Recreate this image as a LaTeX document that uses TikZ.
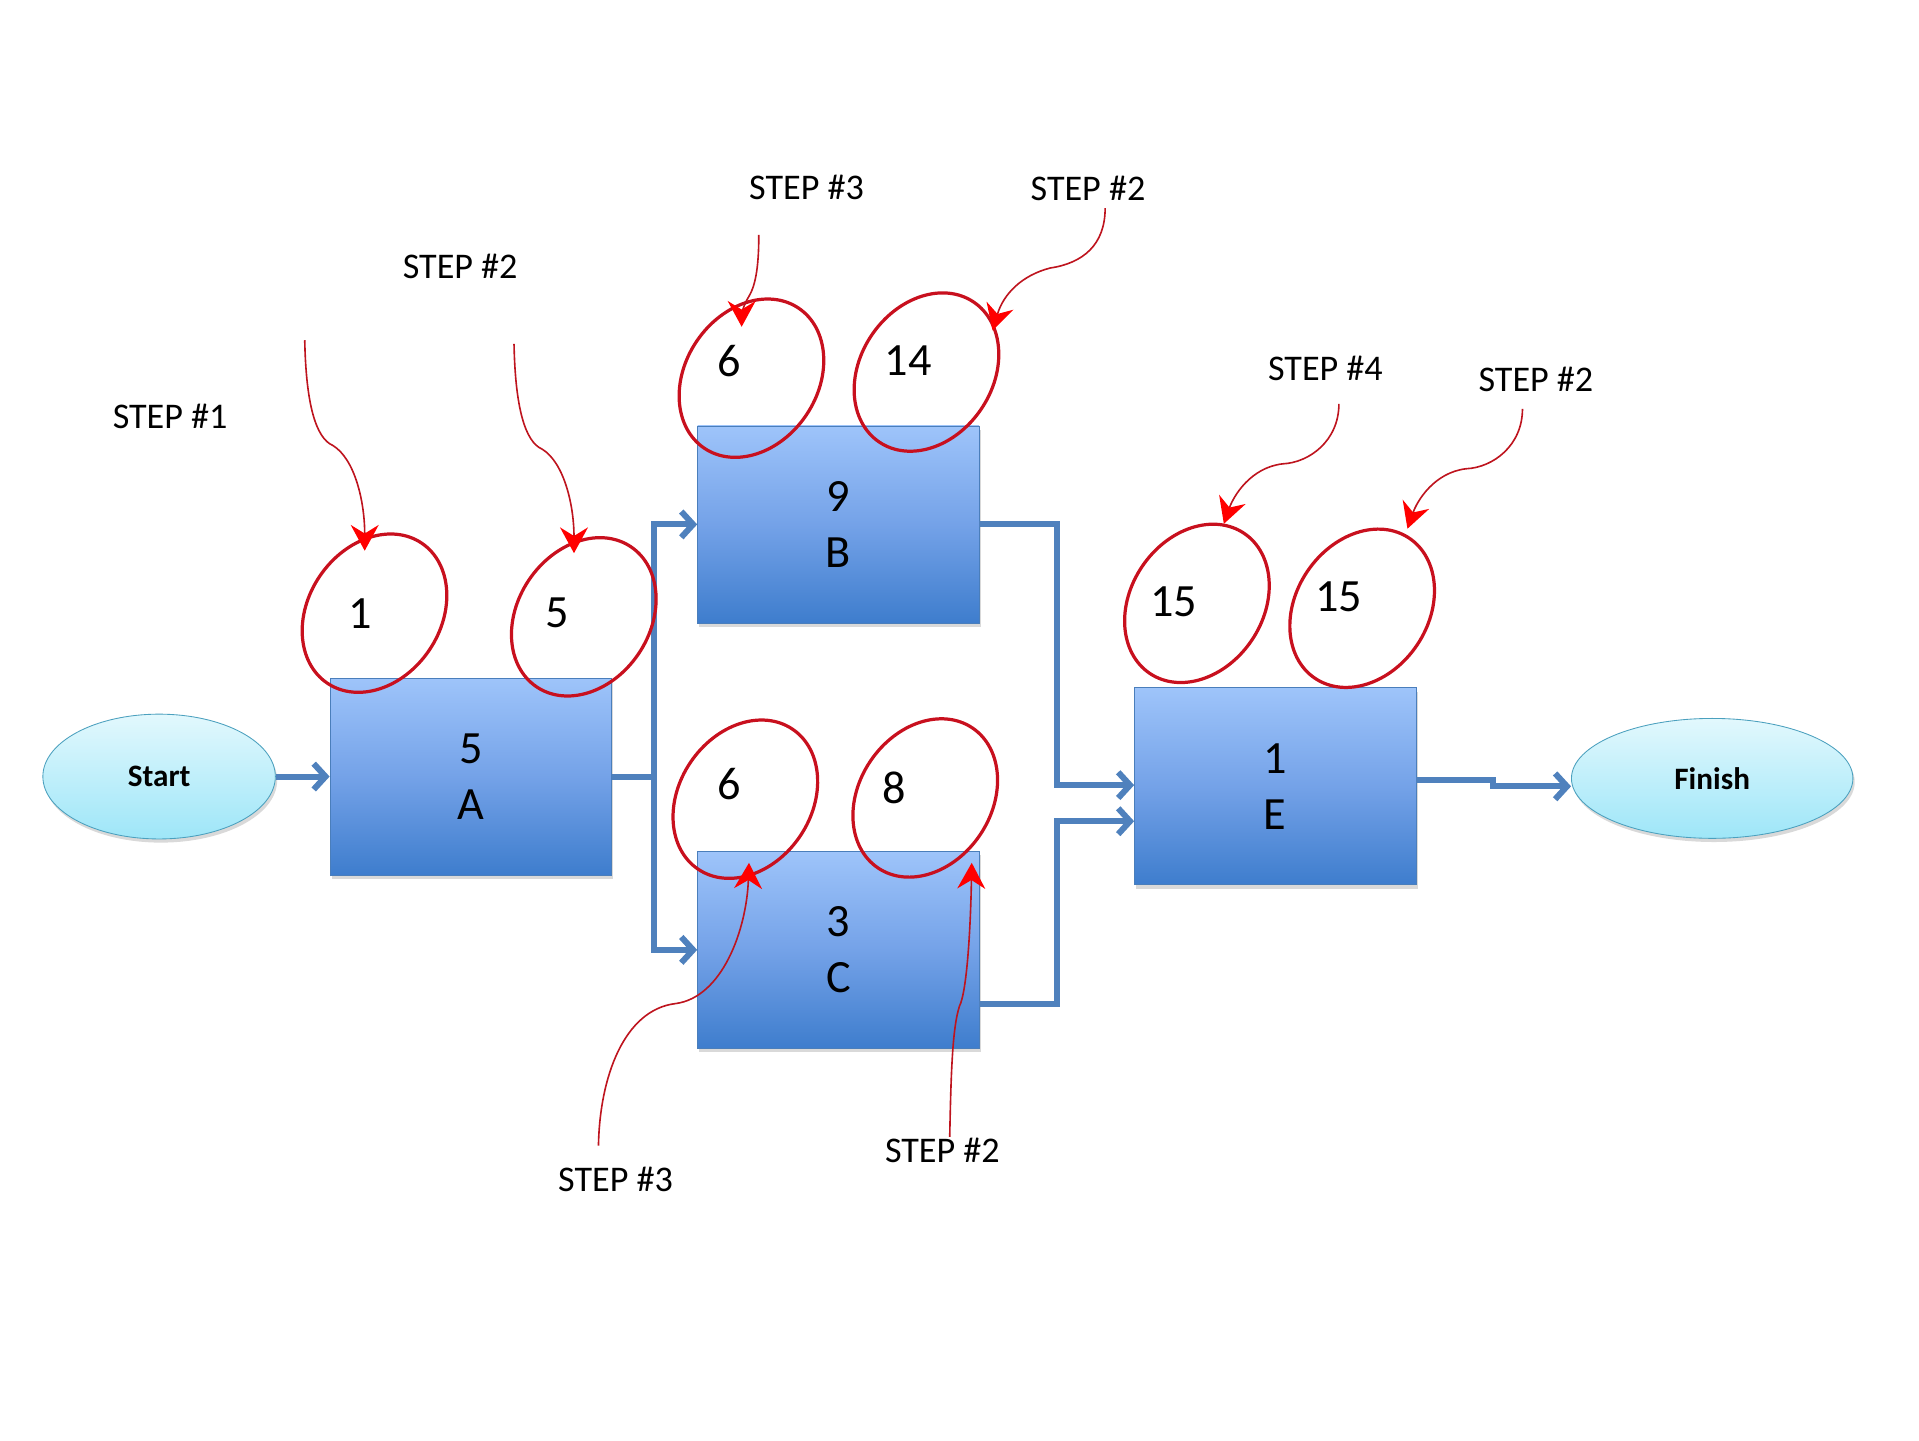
\documentclass[tikz,border=0pt]{standalone}
\usepackage{fontspec}
\setmainfont{Carlito}
\usepackage{tikz}
\usetikzlibrary{positioning,shapes,arrows.meta,shadows,calc}
\def\dx{0.88cm}
\def\dy{3.72cm}
\definecolor{flowblue}{RGB}{79,129,189}
\definecolor{boxtop}{RGB}{158,196,250}
\definecolor{boxmid}{RGB}{116,162,232}
\definecolor{boxbot}{RGB}{62,125,205}
\definecolor{boxline}{RGB}{74,126,187}
\definecolor{termtop}{RGB}{226,248,253}
\definecolor{termbot}{RGB}{158,230,248}
\definecolor{termline}{RGB}{75,160,190}
\definecolor{ringred}{RGB}{200,16,30}
\definecolor{curvered}{RGB}{190,20,30}
\tikzstyle{task}=[draw=boxline,thin,rectangle,minimum width=4.6cm,minimum height=3.22cm,inner sep=0pt,
  top color=boxtop,bottom color=boxbot,middle color=boxmid,align=center,
  font=\fontsize{21.5}{26}\selectfont,drop shadow={shadow xshift=0.03cm,shadow yshift=-0.06cm,opacity=0.3}]
\tikzstyle{terminal}=[draw=termline,ellipse,inner sep=0pt,top color=termtop,bottom color=termbot,
  font=\fontsize{14.5}{17}\selectfont\bfseries,drop shadow={shadow xshift=0.03cm,shadow yshift=-0.06cm,opacity=0.3}]
\tikzstyle{ring}=[draw=ringred,line width=1.5pt,ellipse,minimum width=2.16cm,minimum height=2.76cm,inner sep=0pt,rotate=-34]
\tikzstyle{num}=[inner sep=0pt,font=\fontsize{21.5}{26}\selectfont]
\tikzstyle{steplabel}=[inner sep=0pt,font=\fontsize{16.8}{20}\selectfont]
\tikzstyle{flow}=[draw=flowblue,line width=2.8pt,-{Straight Barb[length=5.5pt,width=12pt]}]
\tikzstyle{pointer}=[draw=curvered,line width=0.75pt,-{Stealth[length=12pt,width=13pt,inset=4pt,color=red]}]
\newcommand{\newTask}[4]{\node[task,#3](#1)[#4]{#2};}
\newcommand{\newRing}[4]{\node[ring](#1) at (#2) {}; \node[num](#1n) at (#3) {#4};}
\newcommand{\newPointer}[3]{\draw[pointer] (#1) #3 (#2);}

\begin{document}
\begin{tikzpicture}[x=0.02cm,y=0.02cm,node distance=\dy and \dx]
      \useasboundingbox (0,0) rectangle (1568,-1177);
      \node[terminal,minimum width=3.8cm,minimum height=2.04cm](start) at (130,-634.5) {Start};
      \newTask{A}{5\\A}{right=\dx of start}{}
      \newTask{B}{9\\B}{}{at={(685,-428.5)}}
      \newTask{C}{3\\C}{below=\dy of B}{}
      \newTask{E}{1\\E}{}{at={(1042,-642.5)}}
      \node[terminal,minimum width=4.6cm,minimum height=1.96cm](finish) at (1399,-636) {Finish};
      % connectors
      \coordinate (split) at (534,-634.5);
      \coordinate (joinB) at (864,-641.5);
      \coordinate (joinC) at (864,-671);
      \coordinate (cOut) at ($(C.east)+(0,-44.5)$);
      \coordinate (eOut) at ($(E.east)+(0,5)$);
      \coordinate (jog) at (1220,-642.5);
      \draw[flow] (start) -- (A);
      \draw[flow,-] (A) -- (split);
      \draw[flow] (split) |- (B);
      \draw[flow] (split) |- (C);
      \draw[flow] (B) -| (joinB) -- (joinB -| E.west);
      \draw[flow] (cOut) -| (joinC) -- (joinC -| E.west);
      \draw[flow] (eOut) -| (jog) -- (jog -| finish.west);
      % early / late times
      \newRing{r1}{306,-501}{294,-501}{1}
      \newRing{r2}{477,-504}{455,-501}{5}
      \newRing{r3}{614,-309}{596,-295}{6}
      \newRing{r4}{757,-304}{742,-295}{14}
      \newRing{r5}{609,-653}{596,-641}{6}
      \newRing{r6}{756,-652}{731,-644}{8}
      \newRing{r7}{978,-493}{959,-492}{15}
      \newRing{r8}{1113,-497}{1094,-488}{15}
      \node[steplabel](s1) at (139,-340) {STEP \#1};
      \node[steplabel](s2) at (376,-218) {STEP \#2};
      \node[steplabel](s3) at (659,-153) {STEP \#3};
      \node[steplabel](s4) at (889,-154) {STEP \#2};
      \node[steplabel](s5) at (1083,-301) {STEP \#4};
      \node[steplabel](s6) at (1255,-310) {STEP \#2};
      \node[steplabel](s7) at (503,-964) {STEP \#3};
      \node[steplabel](s8) at (770,-940) {STEP \#2};
      \coordinate (t1) at (249,-278);  \coordinate (h1) at (298,-450);
      \coordinate (t2) at (420,-281);  \coordinate (h2) at (469,-452);
      \coordinate (t3) at (620,-192);  \coordinate (h3) at (606,-267);
      \coordinate (t4) at (903,-170);  \coordinate (h4) at (811,-270);
      \coordinate (t5) at (1094,-330); \coordinate (h5) at (1000,-428);
      \coordinate (t6) at (1244,-334); \coordinate (h6) at (1150,-432);
      \coordinate (t7) at (489,-936);  \coordinate (h7) at (612,-705);
      \coordinate (t8) at (776,-929);  \coordinate (h8) at (794,-705);
      \newPointer{t1}{h1}{.. controls (250,-330) and (258,-358) .. (272,-364) .. controls (290,-375) and (298,-410) ..}
      \newPointer{t2}{h2}{.. controls (421,-333) and (429,-361) .. (443,-367) .. controls (461,-378) and (469,-413) ..}
      \newPointer{t3}{h3}{.. controls (620,-215) and (618,-232) .. (612,-242) .. controls (607,-250) and (606,-258) ..}
      \newPointer{t4}{h4}{.. controls (903,-200) and (885,-215) .. (858,-219) .. controls (835,-225) and (820,-240) ..}
      \newPointer{t5}{h5}{.. controls (1094,-360) and (1070,-378) .. (1048,-379) .. controls (1022,-382) and (1008,-405) ..}
      \newPointer{t6}{h6}{.. controls (1244,-364) and (1220,-382) .. (1198,-383) .. controls (1172,-386) and (1158,-409) ..}
      \newPointer{t7}{h7}{.. controls (490,-880) and (510,-825) .. (552,-820) .. controls (590,-815) and (610,-760) ..}
      \newPointer{t8}{h8}{.. controls (777,-880) and (778,-840) .. (784,-822) .. controls (790,-810) and (793,-760) ..}
    \end{tikzpicture}
\end{document}
